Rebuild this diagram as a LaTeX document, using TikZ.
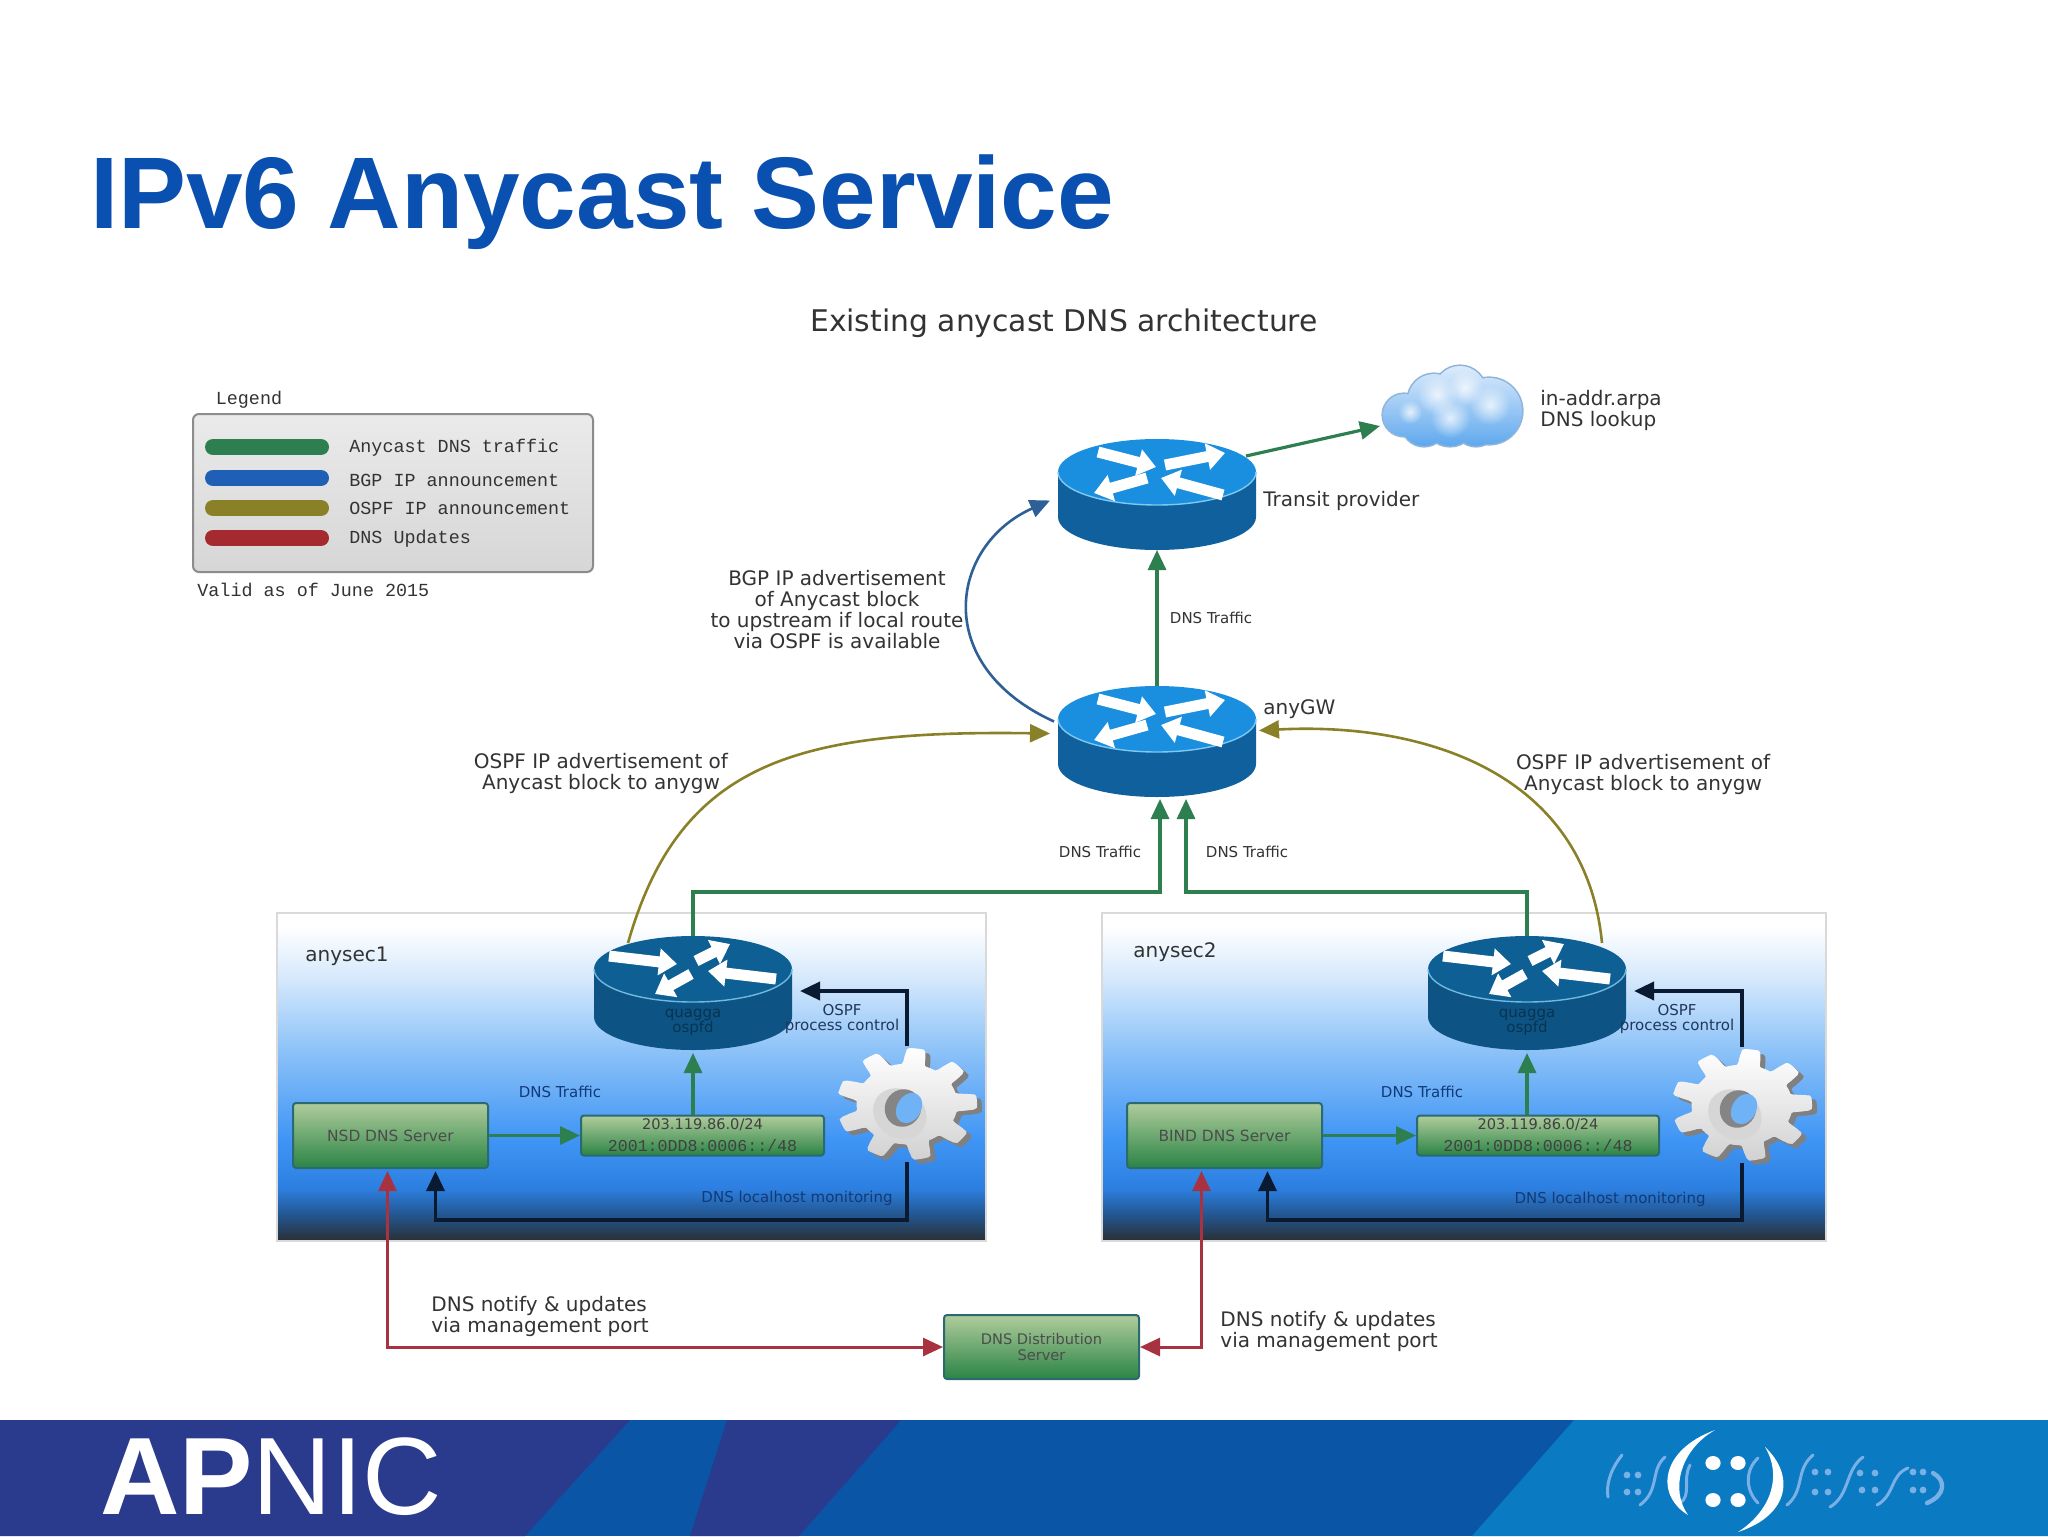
\documentclass[tikz,border=0pt]{standalone}
\usepackage{fontspec}
\setmainfont{DejaVu Sans}
\setmonofont{Liberation Mono}
\newfontfamily\arialf{Liberation Sans}
\usetikzlibrary{arrows.meta,calc,fadings}
\tikzfading[name=softblob,inner color=transparent!0,outer color=transparent!100]
\definecolor{titleblue}{HTML}{0A50B0}
\definecolor{navyband}{HTML}{2A3A8C}
\definecolor{midband}{HTML}{0A55A5}
\definecolor{lightband}{HTML}{0A7AC2}
\definecolor{cgreen}{HTML}{2E7F4F}
\definecolor{cblue}{HTML}{2E5F96}
\definecolor{colive}{HTML}{8A8028}
\definecolor{cred}{HTML}{A83240}
\definecolor{cblack}{HTML}{0A1A30}
\definecolor{lbltext}{HTML}{333333}
\definecolor{navytext}{HTML}{123A78}
\definecolor{legblue}{HTML}{1F5FB5}
\definecolor{legred}{HTML}{A52A30}
\definecolor{trtop}{HTML}{1A8FE0}
\definecolor{trside}{HTML}{10609E}
\definecolor{trrim}{HTML}{7FC8F0}
\definecolor{qtop}{HTML}{0D5F94}
\definecolor{qside}{HTML}{0D5485}
\definecolor{qrim}{HTML}{6FB8E0}
\definecolor{gtop}{HTML}{B0CC9C}
\definecolor{gbot}{HTML}{2A8445}
\definecolor{gedge}{HTML}{2A6A70}
\definecolor{faintc}{HTML}{7AB0E5}
\definecolor{holec}{HTML}{6FB2F5}
\definecolor{cloudo}{HTML}{5FA8EE}
\definecolor{cloudi}{HTML}{DCEBFB}
\definecolor{cloudl}{HTML}{8FB5DC}
\definecolor{pA}{HTML}{2A2F35}
\definecolor{pB}{HTML}{23568F}
\definecolor{pC}{HTML}{2C7FE0}
\definecolor{pD}{HTML}{3F95F5}
\definecolor{pE}{HTML}{8CC2F8}
\definecolor{pF}{HTML}{D5E8FC}
\pgfdeclareverticalshading{panelshade}{100bp}{
  color(0bp)=(pA);
  color(25bp)=(pA);
  color(29bp)=(pB);
  color(33bp)=(pC);
  color(40.5bp)=(pD);
  color(54bp)=(pE);
  color(65bp)=(pF);
  color(73bp)=(white);
  color(100bp)=(white)}
\tikzset{
  x=0.5pt,y=-0.5pt,
  lbl/.style={font=\fontsize{10}{10.5}\selectfont,text=lbltext,align=center,inner sep=0pt},
  lblleft/.style={lbl,align=left,anchor=west},
  tiny/.style={font=\fontsize{7.5}{7.5}\selectfont,text=lbltext,align=center,inner sep=0pt},
  navy/.style={tiny,text=navytext},
  monotext/.style={font=\ttfamily\fontsize{9.2}{11}\selectfont,text=lbltext,inner sep=0pt},
  legendbar/.style={line width=8pt,line cap=round},
  greenbox/.style={draw=gedge,line width=1pt,rounded corners=1.5pt,top color=gtop,bottom color=gbot,inner sep=0pt,align=center,text=black!75},
  panelbox/.style={draw=black!15,line width=.6pt,shading=panelshade},
  tip/.style={-{Triangle[length=10pt,width=9pt]}},
  conn/.style={line width=1.6pt,tip},
  greenc/.style={conn,draw=cgreen},
  blackc/.style={conn,draw=cblack,line width=1.8pt},
  redc/.style={line width=1.5pt,draw=cred,{Triangle[length=10pt,width=9pt]}-{Triangle[length=10pt,width=9pt]}},
  rarrow/.style={draw=white,line width=5.5pt,-{Triangle[length=9pt,width=13pt]}},
  ghost/.style={inner sep=0pt,outer sep=0pt},
  faint/.style={draw=faintc,line width=1.5pt,line cap=round}
}
% name, cx, top, height, top colour, side colour, rim colour, arrows
\newcommand\rtr[8]{%
  \begin{scope}[shift={(#2,#3)}]
    \fill[#6] (-99,33) -- (-99,#4-33) arc[start angle=180,end angle=360,x radius=49.5pt,y radius=16.5pt] -- (99,33) -- cycle;
    \fill[#5] (0,33) ellipse[x radius=49.5pt,y radius=16.5pt];
    \draw[#7,line width=.7pt] (-99,33) arc[start angle=180,end angle=360,x radius=49.5pt,y radius=16.5pt];
    \begin{scope}[shift={(0,33)}]
      \foreach \a/\b in {#8} {\draw[rarrow] (\a) -- (\b);}
    \end{scope}
  \end{scope}
  \node[ghost,minimum width=99pt,minimum height=#4*0.5pt] (#1) at (#2,{#3+#4/2}) {};
}
\newcommand\gearshape[2]{%
  \begin{scope}[shift={(#2)}]
    \fill[black!50] plot[samples=181,domain=0:360,variable=\t]
      ({5+70*(0.86+0.14*max(-1,min(1,2.5*cos(9*\t+20))))*cos(\t)},{4+56*(0.86+0.14*max(-1,min(1,2.5*cos(9*\t+20))))*sin(\t)}) -- cycle;
    \shade[top color=white,bottom color=black!18] plot[samples=181,domain=0:360,variable=\t]
      ({70*(0.86+0.14*max(-1,min(1,2.5*cos(9*\t+20))))*cos(\t)},{56*(0.86+0.14*max(-1,min(1,2.5*cos(9*\t+20))))*sin(\t)}) -- cycle;
    \fill[black!16,rotate around={-35:(-6,8)}] (-6,10) ellipse[x radius=14pt,y radius=12pt];
    \fill[black!48,rotate around={-30:(-4,4)}] (-4,4) ellipse[x radius=9pt,y radius=9.5pt];
    \fill[holec,rotate around={-30:(2,4)}] (2,4) ellipse[x radius=6pt,y radius=8pt];
  \end{scope}
  \node[ghost,minimum width=70pt,minimum height=58pt] (#1) at (#2) {};
}
\begin{document}
\begin{tikzpicture}
\useasboundingbox (0,0) rectangle (2048,1536);
\fill[white] (0,0) rectangle (2048,1536);
% footer
\fill[midband] (0,1420) rectangle (2048,1536);
\fill[navyband] (0,1420) -- (630,1420) -- (525,1536) -- (0,1536) -- cycle;
\fill[navyband] (727,1420) -- (901,1420) -- (799,1536) -- (690,1536) -- cycle;
\fill[lightband] (1574,1420) -- (2048,1420) -- (2048,1536) -- (1472,1536) -- cycle;
\node[ghost,anchor=base west,text=white,font=\arialf\fontsize{55}{55}\selectfont] (apnic) at (100,1514) {\textbf{AP}NIC};
% footer emblem
\draw[faint] (1622,1455) .. controls (1610,1470) and (1606,1485) .. (1608,1497);
\draw[faint] (1665,1457) .. controls (1650,1470) and (1660,1490) .. (1640,1505);
\draw[faint] (1690,1465) .. controls (1682,1480) and (1692,1495) .. (1680,1503);
\draw[faint] (1758,1458) .. controls (1745,1470) and (1745,1490) .. (1758,1503);
\draw[faint] (1813,1455) .. controls (1795,1470) and (1805,1490) .. (1787,1505);
\draw[faint] (1863,1457) .. controls (1845,1470) and (1850,1495) .. (1830,1507);
\draw[faint] (1908,1468) .. controls (1890,1475) and (1895,1495) .. (1877,1505);
\draw[faint,line width=2.2pt] (1933,1473) .. controls (1946,1480) and (1946,1495) .. (1927,1503);
\foreach \px/\py in {1627/1475,1638/1475,1627/1492,1638/1492,1815/1472,1828/1472,1815/1492,1828/1492,1860/1473,1875/1473,1862/1490,1875/1490,1913/1472,1923/1472,1913/1490,1923/1490}
  {\fill[faintc] (\px,\py) circle[radius=1.7pt];}
\fill[white] (1715,1430) .. controls (1660,1450) and (1655,1495) .. (1688,1515) .. controls (1670,1490) and (1680,1450) .. cycle;
\fill[white] (1765,1447) .. controls (1795,1475) and (1790,1515) .. (1738,1532) .. controls (1772,1510) and (1782,1475) .. cycle;
\foreach \px/\py in {1713/1463,1738/1463,1713/1500,1738/1500}
  {\fill[white] (\px,\py) ellipse[x radius=3.8pt,y radius=3.5pt];}
% title
\node[ghost,anchor=base west,text=titleblue,font=\arialf\bfseries\fontsize{50.9}{55}\selectfont] (title) at (90,228) {IPv6 Anycast Service};
\node[lbl,font=\fontsize{14.9}{15}\selectfont] (subtitle) at (1064,323) {Existing anycast DNS architecture};
% legend
\node[monotext] (legendt) at (249,400) {Legend};
\node[ghost,draw=black!45,line width=1pt,rounded corners=3pt,top color=black!8,bottom color=black!16,minimum width=200pt,minimum height=79pt] (legend) at (393,493) {};
\draw[legendbar,draw=cgreen] (213,447) -- (321,447);
\draw[legendbar,draw=legblue] (213,478) -- (321,478);
\draw[legendbar,draw=colive] (213,508) -- (321,508);
\draw[legendbar,draw=legred] (213,538) -- (321,538);
\node[monotext,anchor=west] (ltA) at (349,448) {Anycast DNS traffic};
\node[monotext,anchor=west] (ltB) at (349,480) {BGP IP announcement};
\node[monotext,anchor=west] (ltC) at (349,508) {OSPF IP announcement};
\node[monotext,anchor=west] (ltD) at (349,539) {DNS Updates};
\node[monotext,anchor=west] (valid) at (197,590) {Valid as of June 2015};
% panels
\node[ghost,panelbox,minimum width=354.5pt,minimum height=164pt] (panelA) at (631.5,1077) {};
\node[ghost,panelbox,minimum width=362pt,minimum height=164pt] (panelB) at (1464,1077) {};
\node[lbl] (nameA) at (347,956) {anysec1};
\node[lbl] (nameB) at (1175,952) {anysec2};
% routers
\rtr{tr}{1157}{439}{111}{trtop}{trside}{trrim}{{-59,-20}/{-1,-5},{8,-7}/{68,-19},{-10,6}/{-63,21},{66,23}/{4,6}}
\rtr{gw}{1157}{686}{111}{trtop}{trside}{trrim}{{-59,-20}/{-1,-5},{8,-7}/{68,-19},{-10,6}/{-63,21},{66,23}/{4,6}}
\rtr{qa}{693}{936}{114}{qtop}{qside}{qrim}{{-84,-13}/{-16,-5},{3,-8}/{37,-25},{-2,5}/{-38,25},{83,10}/{15,2}}
\rtr{qb}{1527}{936}{114}{qtop}{qside}{qrim}{{-84,-13}/{-16,-5},{3,-8}/{37,-25},{-2,5}/{-38,25},{83,10}/{15,2}}
\node[tiny,text=qtop!55!black] (qta) at (693,1022) {quagga\\ospfd};
\node[tiny,text=qtop!55!black] (qtb) at (1527,1022) {quagga\\ospfd};
% boxes
\node[greenbox,tiny,draw=gedge,text=black!70,font=\fontsize{7.7}{8}\selectfont,minimum width=97.5pt,minimum height=32.5pt] (nsd) at (390.5,1135.5) {NSD DNS Server};
\node[greenbox,tiny,draw=gedge,text=black!70,font=\fontsize{7.7}{8}\selectfont,minimum width=97.5pt,minimum height=32.5pt] (bind) at (1224.5,1135.5) {BIND DNS Server};
\node[greenbox,minimum width=121.5pt,minimum height=20pt] (ipa) at (702.5,1135.5) {\fontsize{7.3}{7.6}\selectfont 203.119.86.0/24\\[-1pt]\ttfamily\fontsize{8.3}{7.6}\selectfont 2001:0DD8:0006::/48};
\node[greenbox,minimum width=121pt,minimum height=20pt] (ipb) at (1538,1135.5) {\fontsize{7.3}{7.6}\selectfont 203.119.86.0/24\\[-1pt]\ttfamily\fontsize{8.3}{7.6}\selectfont 2001:0DD8:0006::/48};
\node[greenbox,text=black!70,font=\fontsize{7.3}{7.6}\selectfont,minimum width=97.5pt,minimum height=32pt] (dist) at (1041.5,1347) {DNS Distribution\\Server};
% gears
\gearshape{ga}{907,1104}
\gearshape{gb}{1742,1105}
% cloud
\draw[cloudl,line width=1.6pt] (1489,411) circle[radius=16.5pt] (1460,392) circle[radius=13pt] (1434,400) circle[radius=13pt] (1404,415) circle[radius=10.5pt] (1424,424) circle[radius=11pt] (1476,424) circle[radius=11pt] (1450,420) circle[radius=13pt];
\shade[top color=cloudi,bottom color=cloudo] (1489,411) circle[radius=16.5pt] (1460,392) circle[radius=13pt] (1434,400) circle[radius=13pt] (1404,415) circle[radius=10.5pt] (1424,424) circle[radius=11pt] (1476,424) circle[radius=11pt] (1450,420) circle[radius=13pt];
\foreach \px/\py/\pr in {1437/395/10,1465/388/9,1490/405/10,1450/418/10,1410/412/6}
  {\fill[white,opacity=.75,path fading=softblob] (\px,\py) circle[radius=\pr pt];}
\node[ghost,minimum width=71pt,minimum height=40pt] (cloud) at (1451,406) {};
% labels
\node[lblleft] (intext) at (1540,410) {in-addr.arpa\\DNS lookup};
\node[lblleft] (trname) at (1263,501) {Transit provider};
\node[lblleft] (gwname) at (1263,709) {anyGW};
\node[lbl] (bgpl) at (837,610) {BGP IP advertisement\\of Anycast block\\to upstream if local route\\via OSPF is available};
\node[lbl] (ospfa) at (601,773) {OSPF IP advertisement of\\Anycast block to anygw};
\node[lbl] (ospfb) at (1643,774) {OSPF IP advertisement of\\Anycast block to anygw};
\node[lblleft] (nota) at (431,1316) {DNS notify \& updates\\via management port};
\node[lblleft] (notb) at (1220,1331) {DNS notify \& updates\\via management port};
\node[tiny] (dt1) at (1211,618) {DNS Traffic};
\node[tiny] (dt2) at (1100,852) {DNS Traffic};
\node[tiny] (dt3) at (1247,852) {DNS Traffic};
\node[navy] (dt4) at (560,1092) {DNS Traffic};
\node[navy] (dt5) at (1422,1092) {DNS Traffic};
\node[navy,text=lbltext!40!navytext] (ctlA) at (842,1019) {OSPF\\process control};
\node[navy,text=lbltext!40!navytext] (ctlB) at (1677,1019) {OSPF\\process control};
\node[navy] (monA) at (797,1198) {DNS localhost monitoring};
\node[navy] (monB) at (1610,1199) {DNS localhost monitoring};
% connectors
\draw[greenc] (tr.north east) ++(-10,17) -- ($(cloud.west)+(0,20)$);
\draw[greenc] (gw.north) -- (tr.south);
\draw[conn,draw=cblue,line width=1.3pt] ($(gw.west)+(-4,-20)$) .. controls (930,665) and (950,545) .. ($(tr.west)+(-8,6)$);
\draw[conn,draw=colive,line width=1.3pt] ($(qa.north)+(-65,7)$) .. controls (680,760) and (800,730) .. ($(gw.west)+(-8,-8)$);
\draw[conn,draw=colive,line width=1.3pt] ($(qb.north)+(75,7)$) .. controls (1585,770) and (1420,722) .. ($(gw.east)+(3,-11)$);
\coordinate (busa) at (693,892);
\coordinate (busb) at (1527,892);
\draw[greenc] (qa.north) -- (busa) -| ($(gw.south)+(3,2)$);
\draw[greenc] (qb.north) -- (busb) -| ($(gw.south)+(29,2)$);
\draw[greenc] (qa.south |- ipa.north) -- ($(qa.south)+(0,3)$);
\draw[greenc] (qb.south |- ipb.north) -- ($(qb.south)+(0,3)$);
\draw[greenc] (nsd.east) -- (ipa.west);
\draw[greenc] (bind.east) -- (ipb.west);
\draw[blackc] (ga.north) |- ($(qa.east)+(8,-2)$);
\draw[blackc] (gb.north) |- ($(qb.east)+(8,-2)$);
\coordinate (mona) at (907,1220);
\coordinate (monb) at (1742,1220);
\draw[blackc] (ga.south) -- (mona) -- (435.5,1220) -- ($(nsd.south)+(45,2)$);
\draw[blackc] (gb.south) -- (monb) -- (1267.5,1220) -- ($(bind.south)+(43,2)$);
\coordinate (reda) at (387.5,1347);
\coordinate (redb) at (1201.5,1347);
\draw[redc] ($(nsd.south)+(-3,2)$) -- (reda) -- (dist.west);
\draw[redc] (dist.east) -- (redb) -- ($(bind.south)+(-23,2)$);
\end{tikzpicture}
\end{document}
